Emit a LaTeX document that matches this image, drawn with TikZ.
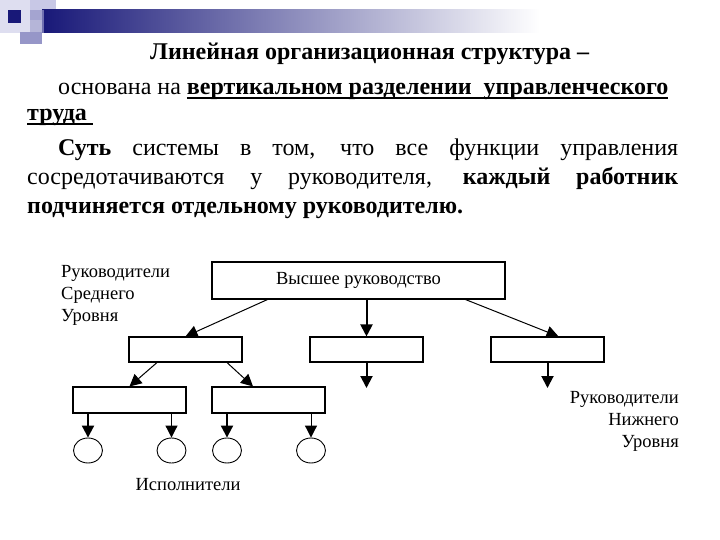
\documentclass[tikz,border=0pt]{standalone}
\usepackage{fontspec}
\setmainfont{Liberation Serif}
\usetikzlibrary{arrows.meta,shapes.geometric,calc}
\definecolor{navy}{RGB}{24,24,120}
\definecolor{lavA}{RGB}{222,222,240}
\definecolor{lavB}{RGB}{200,200,230}
\definecolor{lavC}{RGB}{150,150,200}
\definecolor{midgray}{RGB}{130,130,170}
\newcommand\myul[1]{\setbox0\hbox{#1}\rlap{\raisebox{-4pt}{\rule{\wd0}{1.6pt}}}\box0}
\begin{document}
\begin{tikzpicture}[x=1pt,y=-1pt,
  txt/.style={inner sep=0pt,font=\fontsize{24}{28}\selectfont},
  box/.style={draw,line width=1.1pt,minimum width=113pt,minimum height=25pt,inner sep=0pt},
  worker/.style={draw,line width=0.9pt,ellipse,minimum width=29pt,minimum height=25pt,inner sep=0pt},
  lbl/.style={inner sep=0pt,font=\fontsize{18.5}{22}\selectfont},
  arr/.style={-{Triangle[width=12pt,length=12pt]},line width=1pt},
  tarr/.style={-{Triangle[width=12pt,length=12pt]},line width=2pt}]
\useasboundingbox (0,0) rectangle (720,540);
% header decoration
\fill[lavA] (0,0) rectangle (30,33);
\fill[lavB] (30,0) rectangle (56,20);
\shade[left color=navy,middle color=midgray,right color=white] (42,10) rectangle (540,33);
\fill[lavC,opacity=0.7] (30,10) rectangle (44,33);
\fill[navy] (8,10) rectangle (21,23);
\fill[lavC] (20,32) rectangle (42,44);
% text block
\node[txt,anchor=base west] (title) at (150,60) {\textbf{Линейная организационная структура –}};
\node[txt,anchor=base west] (l1) at (58,95) {основана на \myul{\textbf{вертикальном разделении\ \ управленческого}}};
\node[txt,anchor=base west] (l2) at (27,121) {\myul{\textbf{труда}\ }};
\node[txt,anchor=base west] (l3) at (58,156) {\makebox[620pt][s]{\textbf{Суть} системы в том, что все функции управления}};
\node[txt,anchor=base west] (l4) at (27,185) {\makebox[651pt][s]{сосредотачиваются у руководителя, \textbf{каждый работник}}};
\node[txt,anchor=base west] (l5) at (27,214) {\textbf{подчиняется отдельному руководителю.}};
% diagram
\node[box,minimum width=293pt,minimum height=37pt] (top) at (358.5,280.5) {\fontsize{18.5}{20}\selectfont Высшее руководство};
\node[box] (A) at (185.5,349.5) {};
\node[box] (B) at (366.5,349.5) {};
\node[box] (C) at (547.5,349.5) {};
\node[box,minimum height=26pt] (D) at (129.5,400) {};
\node[box,minimum height=26pt] (E) at (268.5,400) {};
\node[worker] (w1) at (88,450.5) {};
\node[worker] (w2) at (171.5,450.5) {};
\node[worker] (w3) at (227,450.5) {};
\node[worker] (w4) at (311,450.5) {};
\coordinate (bEnd) at (366.5,388);
\coordinate (cEnd) at (547.5,388);
\draw[arr] ($(top.south west)+(56,0)$) -- (A.north);
\draw[tarr] (B.north |- top.south) -- (B.north);
\draw[arr] ($(top.south east)+(-40,0)$) -- ($(C.north)+(11,0)$);
\draw[tarr] (B.south) -- (bEnd);
\draw[tarr] (C.south) -- (cEnd);
\draw[arr] ($(A.south)+(-28.5,0)$) -- (D.north);
\draw[arr] ($(A.south)+(41.5,0)$) -- ($(E.north)+(-15.5,0)$);
\draw[tarr] (w1.north |- D.south) -- (w1.north);
\draw[arr] (w2.north |- D.south) -- (w2.north);
\draw[tarr] (w3.north |- E.south) -- (w3.north);
\draw[arr] (w4.north |- E.south) -- (w4.north);
% labels
\node[lbl,anchor=north west,align=left] (lmid) at (61,265) {Руководители\\Среднего\\Уровня};
\node[lbl,anchor=north east,align=right] (llow) at (679,391) {Руководители\\Нижнего\\Уровня};
\node[lbl] (lwork) at (188,485) {Исполнители};
\end{tikzpicture}
\end{document}
